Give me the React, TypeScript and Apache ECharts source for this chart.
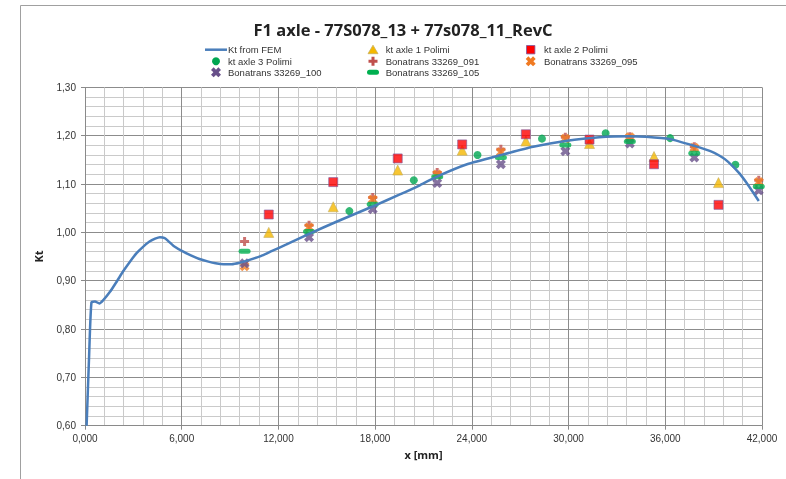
import React, { useEffect, useRef } from "react";
import * as echarts from "echarts";

const xTickStep = 6000;
const femX = [100, 250, 400, 620, 890, 1135, 1550, 2000, 2400, 2800, 3200, 3600, 4000, 4350, 4650, 4950, 5200, 5500, 6100, 6600, 7100, 7600, 8100, 8600, 9100, 9600, 10200, 10900, 11500, 12500, 13900, 15600, 17800, 19500, 20800, 21800, 23700, 25800, 27800, 29800, 31900, 33800, 34800, 36300, 37800, 38800, 39400, 39900, 40600, 41200, 41800];
const femY = [0.60, 0.74, 0.855, 0.857, 0.853, 0.860, 0.877, 0.900, 0.921, 0.940, 0.957, 0.970, 0.981, 0.987, 0.990, 0.988, 0.981, 0.972, 0.960, 0.952, 0.945, 0.940, 0.936, 0.934, 0.934, 0.937, 0.943, 0.951, 0.960, 0.975, 0.997, 1.022, 1.053, 1.078, 1.098, 1.115, 1.141, 1.160, 1.177, 1.189, 1.197, 1.199, 1.198, 1.193, 1.179, 1.168, 1.158, 1.146, 1.122, 1.095, 1.065];

const polimiX = [11400, 15400, 19400, 23400, 27350, 31300, 35300, 39300];
const axle1Y = [1.000, 1.053, 1.129, 1.170, 1.189, 1.184, 1.157, 1.103];
const axle2Y = [1.037, 1.104, 1.153, 1.182, 1.203, 1.192, 1.141, 1.057];
const axle3X = [16400, 20400, 24350, 28350, 32300, 36300, 40350];
const axle3Y = [1.044, 1.108, 1.160, 1.194, 1.205, 1.195, 1.140];

const bonaX = [9900, 13900, 17850, 21850, 25800, 29800, 33800, 37800, 41800];
const bona091 = [0.981, 1.015, 1.072, 1.124, 1.172, 1.197, 1.198, 1.177, 1.108];
const bona095 = [0.930, 1.010, 1.068, 1.120, 1.166, 1.194, 1.197, 1.175, 1.104];
const bona100 = [0.936, 0.990, 1.048, 1.102, 1.141, 1.168, 1.184, 1.155, 1.087];
const bona105 = [0.961, 1.002, 1.058, 1.115, 1.155, 1.181, 1.188, 1.164, 1.095];

const names = [
  "Kt from FEM",
  "kt axle 1 Polimi",
  "kt axle 2 Polimi",
  "kt axle 3 Polimi",
  "Bonatrans 33269_091",
  "Bonatrans 33269_095",
  "Bonatrans 33269_100",
  "Bonatrans 33269_105",
];
const titleText = "F1 axle - 77S078_13 + 77s078_11_RevC";

const COL = {
  fem: "#4A7EBB",
  a1: "#F5B800",
  a1b: "#C8B060",
  a2: "#FF0000",
  a2b: "#7E5A9E",
  a3: "#00A651",
  b091: "#C0504D",
  b095: "#F07A22",
  b100: "#68508A",
  b105: "#00B050",
};

const PLUS_PTS = [[3, 0], [6, 0], [6, 3], [9, 3], [9, 6], [6, 6], [6, 9], [3, 9], [3, 6], [0, 6], [0, 3], [3, 3]];
const CROSS_PTS = [[2.4, 0], [4.5, 2.1], [6.6, 0], [9, 2.4], [6.9, 4.5], [9, 6.6], [6.6, 9], [4.5, 6.9], [2.4, 9], [0, 6.6], [2.1, 4.5], [0, 2.4]];
const toPath = (pts: number[][]) => "path://M" + pts.map((p) => p.join(",")).join("L") + "Z";
const PLUS = toPath(PLUS_PTS);
const CROSS = toPath(CROSS_PTS);
const DASH = "path://M2.5,0H9.5A2.5,2.5,0,0,1,9.5,5H2.5A2.5,2.5,0,0,1,2.5,0Z";

const zip = (xs: number[], ys: number[]) => xs.map((x, i) => [x, ys[i]]);

export default function App() {
  const ref = useRef<HTMLDivElement>(null);
  useEffect(() => {
    if (!ref.current) return;
    const chart = echarts.init(ref.current, undefined, { renderer: "svg" });
    const font = "'Open Sans', 'Noto Sans', sans-serif";
    const lfont = "'Liberation Sans', Arial, sans-serif";

    const poly = (pts: number[][], cx: number, cy: number, size: number, fill: string) => ({
      type: "polygon",
      shape: { points: pts.map((p) => [cx + ((p[0] - 4.5) * size) / 9, cy + ((p[1] - 4.5) * size) / 9]) },
      style: { fill },
    });
    const ltext = (text: string, x: number, y: number) => ({
      type: "text",
      x,
      y,
      style: { text, fontSize: 9.5, fill: "#333", fontFamily: lfont, align: "left", verticalAlign: "middle" },
    });
    const r1 = 49.7, r2 = 61.3, r3 = 72.3;
    const c1 = 216, c2 = 373, c3 = 530.7;
    const t1 = 228, t2 = 385.7, t3 = 544;

    const legendGraphics = [
      { type: "line", shape: { x1: 205, y1: r1, x2: 227, y2: r1 }, style: { stroke: COL.fem, lineWidth: 2.5 } },
      ltext(names[0], t1, r1),
      { type: "polygon", shape: { points: [[c2, r1 - 4.5], [c2 + 5, r1 + 4], [c2 - 5, r1 + 4]] }, style: { fill: COL.a1, stroke: COL.a1b, lineWidth: 0.8 } },
      ltext(names[1], t2, r1),
      { type: "rect", shape: { x: c3 - 4.2, y: r1 - 4.2, width: 8.4, height: 8.4 }, style: { fill: COL.a2, stroke: COL.a2b, lineWidth: 0.8 } },
      ltext(names[2], t3, r1),
      { type: "circle", shape: { cx: c1, cy: r2, r: 4 }, style: { fill: COL.a3 } },
      ltext(names[3], t1, r2),
      poly(PLUS_PTS, c2, r2, 9, COL.b091),
      ltext(names[4], t2, r2),
      poly(CROSS_PTS, c3, r2, 10, COL.b095),
      ltext(names[5], t3, r2),
      poly(CROSS_PTS, c1, r3, 10, COL.b100),
      ltext(names[6], t1, r3),
      { type: "rect", shape: { x: c2 - 6, y: r3 - 2.5, width: 12, height: 5, r: 2.5 }, style: { fill: COL.b105 } },
      ltext(names[7], t2, r3),
    ];

    const sc = (name: string, data: number[][], symbol: string, size: any, color: string, border?: string) => ({
      name,
      type: "scatter",
      data,
      symbol,
      symbolSize: size,
      itemStyle: { color, borderColor: border || color, borderWidth: border ? 0.8 : 0 },
    });
    chart.setOption({
      animation: false,
      graphic: [
        { type: "line", shape: { x1: 20.5, y1: 5.5, x2: 786, y2: 5.5 }, style: { stroke: "#a0a0a0", lineWidth: 1 } },
        { type: "line", shape: { x1: 20.5, y1: 5.5, x2: 20.5, y2: 479 }, style: { stroke: "#a0a0a0", lineWidth: 1 } },
        {
          type: "text",
          x: 403,
          y: 29,
          style: { text: titleText, fontSize: 16.5, fontWeight: "bold", fill: "#222", fontFamily: font, align: "center", verticalAlign: "middle" },
        },
        ...legendGraphics,
      ],
      grid: { left: 85, right: 24, top: 87.4, bottom: 53.3, containLabel: false },
      xAxis: {
        type: "value",
        min: 0,
        max: 42000,
        interval: xTickStep,
        name: "x [mm]",
        nameLocation: "middle",
        nameGap: 23,
        nameTextStyle: { fontSize: 11, fontWeight: "bold", color: "#222", fontFamily: font },
        axisLine: { show: true, lineStyle: { color: "#8a8a8a" } },
        axisTick: { show: true, length: 4, lineStyle: { color: "#8a8a8a" } },
        axisLabel: {
          fontSize: 10,
          color: "#333",
          fontFamily: lfont,
          margin: 8,
          formatter: (v: number) => (v / 1000).toFixed(3).replace(".", ","),
        },
        splitLine: { show: true, lineStyle: { color: "#8c8c8c", width: 1 } },
        minorTick: { show: false, splitNumber: 5 },
        minorSplitLine: { show: true, lineStyle: { color: "#cacaca", width: 1 } },
      },
      yAxis: {
        type: "value",
        min: 0.6,
        max: 1.3,
        interval: 0.1,
        name: "Kt",
        nameLocation: "middle",
        nameGap: 41,
        nameTextStyle: { fontSize: 11, fontWeight: "bold", color: "#222", fontFamily: font },
        axisLine: { show: true, lineStyle: { color: "#8a8a8a" } },
        axisTick: { show: true, length: 4, lineStyle: { color: "#8a8a8a" } },
        axisLabel: {
          fontSize: 10,
          color: "#333",
          fontFamily: lfont,
          margin: 9,
          formatter: (v: number) => v.toFixed(2).replace(".", ","),
        },
        splitLine: { show: true, lineStyle: { color: "#8c8c8c", width: 1 } },
        minorTick: { show: false, splitNumber: 5 },
        minorSplitLine: { show: true, lineStyle: { color: "#cacaca", width: 1 } },
      },
      series: [
        {
          name: names[0],
          type: "line",
          data: zip(femX, femY),
          symbol: "none",
          smooth: 0.2,
          clip: true,
          lineStyle: { color: COL.fem, width: 2.5 },
          itemStyle: { color: COL.fem },
        },
        sc(names[1], zip(polimiX, axle1Y), "triangle", 10, COL.a1, COL.a1b),
        sc(names[2], zip(polimiX, axle2Y), "rect", 9, COL.a2, COL.a2b),
        sc(names[3], zip(axle3X, axle3Y), "circle", 8, COL.a3),
        sc(names[4], zip(bonaX, bona091), PLUS, 9, COL.b091),
        sc(names[5], zip(bonaX, bona095), CROSS, 10, COL.b095),
        sc(names[6], zip(bonaX, bona100), CROSS, 10, COL.b100),
        sc(names[7], zip(bonaX, bona105), DASH, [12, 5], COL.b105),
      ],
    });
    return () => chart.dispose();
  }, []);
  return <div ref={ref} style={{ position: "fixed", left: 0, top: 0, width: 786, height: 479 }} />;
}
